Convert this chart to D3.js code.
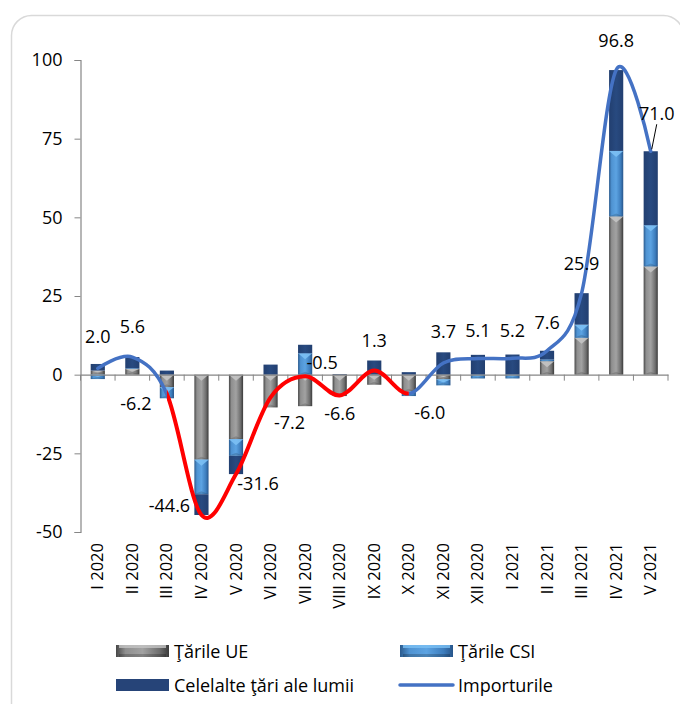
<!DOCTYPE html>
<html>
<head>
<meta charset="utf-8">
<script src="https://cdn.jsdelivr.net/npm/d3@7"></script>
<style>
  html, body { margin: 0; padding: 0; background: #fff; }
  svg { display: block; }
  text { font-family: "Open Sans", "Noto Sans", sans-serif; fill: #000; }
</style>
</head>
<body>
<script>
// Monthly change in imports by partner group (million USD), I 2020 – V 2021
const categories = ["I 2020", "II 2020", "III 2020", "IV 2020", "V 2020", "VI 2020",
  "VII 2020", "VIII 2020", "IX 2020", "X 2020", "XI 2020", "XII 2020",
  "I 2021", "II 2021", "III 2021", "IV 2021", "V 2021"];
const euValues    = [1.3, 1.8, -4.0, -27.0, -20.5, -10.4, -10.0, -6.8, -3.2, -5.4, -1.5, 0, 0, 4.3, 11.7, 50.3, 34.4];
const csiValues   = [-1.4, 0.2, -3.5, -11.0, -5.3, 0, 6.8, 0, 0, -1.4, -1.9, -1.2, -1.2, 0.5, 4.2, 20.8, 13.1];
const otherValues = [2.1, 3.6, 1.3, -6.6, -5.8, 3.2, 2.7, 0.2, 4.5, 0.8, 7.1, 6.3, 6.4, 2.8, 10.0, 25.7, 23.5];
const importValues = [2.0, 5.6, -6.2, -44.6, -31.6, -7.2, -0.5, -6.6, 1.3, -6.0, 3.7, 5.1, 5.2, 7.6, 25.9, 96.8, 71.0];
const yTicks = [-50, -25, 0, 25, 50, 75, 100];
const seriesNames = ["Ţările UE", "Ţările CSI", "Celelalte ţări ale lumii", "Importurile"];

// label placement relative to each line point [dx, dy]
const labelNudge = [[0,-32],[0,-31],[-31,9],[-32,-10],[22,9],[19,25],[17,-14],[0,18],[0,-31],
  [21,18],[0,-32],[0,-29],[0,-28],[0,-29],[0,-30],[0,-30],[6,-38]];

const FONT = "\"Open Sans\", \"Noto Sans\", sans-serif";
const W = 680, H = 704;
const svg = d3.select("body").append("svg").attr("width", W).attr("height", H);

// outer rounded frame
svg.append("rect").attr("x", 11.5).attr("y", 15.5).attr("width", 672).attr("height", 740)
  .attr("rx", 20).attr("fill", "#fff").attr("stroke", "#d9d9d9").attr("stroke-width", 1.5);

const x = d3.scaleBand().domain(categories).range([80.5, 668]).paddingInner(0.59).paddingOuter(0.295);
const y = d3.scaleLinear().domain([-50, 100]).range([532, 60]);
const cx = c => x(c) + x.bandwidth() / 2;

// gradients for bevelled bars
const defs = svg.append("defs");
function hGrad(id, stops) {
  const g = defs.append("linearGradient").attr("id", id).attr("x1", 0).attr("x2", 1).attr("y1", 0).attr("y2", 0);
  stops.forEach(([o, c]) => g.append("stop").attr("offset", o).attr("stop-color", c));
}
hGrad("gEU", [[0, "#474747"], [0.18, "#8f8f8f"], [0.5, "#a2a2a2"], [0.82, "#6e6e6e"], [1, "#3a3a3a"]]);
hGrad("gCSI", [[0, "#2b5b8e"], [0.18, "#4f93d2"], [0.5, "#5ca3e2"], [0.82, "#3d7dbd"], [1, "#27558a"]]);
hGrad("gOther", [[0, "#223f70"], [0.5, "#284a80"], [1, "#223f70"]]);

const keys = ["eu", "csi", "other"];
const rows = categories.map((c, i) => ({ cat: c, eu: euValues[i], csi: csiValues[i], other: otherValues[i] }));
const stacked = d3.stack().keys(keys).offset(d3.stackOffsetDiverging)(rows);
const fills = { eu: "url(#gEU)", csi: "url(#gCSI)", other: "url(#gOther)" };
const capFill = { eu: "#c4c4c4", csi: "#7cc0f4", other: "#2f528c" };

// axes
const yAxis = svg.append("g").attr("transform", "translate(80.5,0)")
  .call(d3.axisLeft(y).tickValues(yTicks).tickFormat(d => String(d)).tickSize(6).tickPadding(12));
yAxis.select(".domain").attr("stroke", "#868686").attr("stroke-width", 1.2);
yAxis.selectAll(".tick line").attr("stroke", "#868686");
yAxis.selectAll(".tick text").style("font-size", "18px").style("font-family", FONT).attr("fill", "#000");

// bars
const barG = svg.append("g");
stacked.forEach(layer => {
  const k = layer.key;
  layer.forEach(d => {
    const v = d.data[k];
    if (!v) return;
    const top = y(Math.max(d[0], d[1])), bot = y(Math.min(d[0], d[1]));
    const x0 = x(d.data.cat), bw = x.bandwidth();
    barG.append("rect").attr("x", x0).attr("y", top).attr("width", bw).attr("height", bot - top)
      .attr("fill", fills[k]);
    if (k !== "other") {
      const b = Math.min(6, (bot - top) / 2);
      barG.append("path")
        .attr("d", `M${x0},${top}L${x0 + bw},${top}L${x0 + bw / 2},${top + b}Z`)
        .attr("fill", capFill[k]).attr("opacity", 0.9);
      barG.append("path")
        .attr("d", `M${x0},${bot}L${x0 + bw},${bot}L${x0 + bw / 2},${bot - Math.min(3, b)}Z`)
        .attr("fill", "#000").attr("opacity", 0.15);
    }
  });
});

// zero line with category ticks
const xAxis = svg.append("g").attr("transform", `translate(0,${y(0)})`)
  .call(d3.axisBottom(x).tickSize(0).tickFormat(""));
xAxis.select(".domain").attr("stroke", "#868686").attr("stroke-width", 1.2);
const step = x.step();
const bounds = d3.range(categories.length + 1).map(i => 80.5 + i * step);
svg.append("g").selectAll("line").data(bounds).join("line")
  .attr("x1", d => d).attr("x2", d => d).attr("y1", y(0)).attr("y2", y(0) + 6)
  .attr("stroke", "#868686");

// category labels along the bottom
svg.append("g").selectAll("text").data(categories).join("text")
  .attr("transform", c => `translate(${cx(c) + 5.5},543) rotate(-90)`)
  .attr("text-anchor", "end")
  .style("font-family", FONT)
  .style("font-size", "16.5px")
  .text(c => c);

// smoothed import line, blue above and red through the decline
const line = d3.line().x((d, i) => cx(categories[i])).y(d => y(d)).curve(d3.curveCardinal.tension(0));
const redFrom = cx(categories[2]), redTo = cx(categories[9]);
defs.append("clipPath").attr("id", "clipRed").append("rect")
  .attr("x", redFrom).attr("y", 0).attr("width", redTo - redFrom).attr("height", H);
const cb = defs.append("clipPath").attr("id", "clipBlue");
cb.append("rect").attr("x", 0).attr("y", 0).attr("width", redFrom).attr("height", H);
cb.append("rect").attr("x", redTo).attr("y", 0).attr("width", W - redTo).attr("height", H);

svg.append("path").datum(importValues).attr("d", line).attr("fill", "none")
  .attr("stroke", "#4472c4").attr("stroke-width", 3.5).attr("stroke-linecap", "round")
  .attr("clip-path", "url(#clipBlue)");
svg.append("path").datum(importValues).attr("d", line).attr("fill", "none")
  .attr("stroke", "#ff0000").attr("stroke-width", 4).attr("stroke-linecap", "round")
  .attr("clip-path", "url(#clipRed)");

// value labels
const lblG = svg.append("g");
importValues.forEach((v, i) => {
  const px = cx(categories[i]), py = y(v);
  const [dx, dy] = labelNudge[i];
  lblG.append("text").attr("x", px + dx).attr("y", py + dy)
    .attr("text-anchor", "middle").attr("dominant-baseline", "central")
    .style("font-family", FONT).style("font-size", "18px").text(v.toFixed(1));
  if (i === categories.length - 1) {
    lblG.append("line").attr("x1", px + dx).attr("y1", py + dy + 11).attr("x2", px + 1).attr("y2", py - 2)
      .attr("stroke", "#000").attr("stroke-width", 1);
  }
});

// legend
const leg = svg.append("g");
const legItems = [
  { name: seriesNames[0], col: 0, row: 0, fill: "url(#gEU)", cap: "#c4c4c4" },
  { name: seriesNames[1], col: 1, row: 0, fill: "url(#gCSI)", cap: "#7cc0f4" },
  { name: seriesNames[2], col: 0, row: 1, fill: "#264478" },
  { name: seriesNames[3], col: 1, row: 1, line: "#4472c4" }
];
legItems.forEach(it => {
  const lx = it.col ? 400 : 116, ly = it.row ? 685 : 651;
  if (it.line) {
    leg.append("line").attr("x1", lx).attr("x2", lx + 53).attr("y1", ly).attr("y2", ly)
      .attr("stroke", it.line).attr("stroke-width", 3.5).attr("stroke-linecap", "round");
  } else {
    leg.append("rect").attr("x", lx).attr("y", ly - 6).attr("width", 53).attr("height", 12).attr("fill", it.fill);
    if (it.cap) {
      leg.append("rect").attr("x", lx + 3).attr("y", ly - 6).attr("width", 47).attr("height", 3).attr("fill", it.cap).attr("opacity", 0.8);
      leg.append("rect").attr("x", lx + 3).attr("y", ly + 3).attr("width", 47).attr("height", 3).attr("fill", "#000").attr("opacity", 0.2);
    }
  }
  leg.append("text").attr("x", lx + 58).attr("y", ly).attr("dominant-baseline", "central")
    .style("font-family", FONT).style("font-size", "18px").text(it.name);
});
</script>
</body>
</html>
